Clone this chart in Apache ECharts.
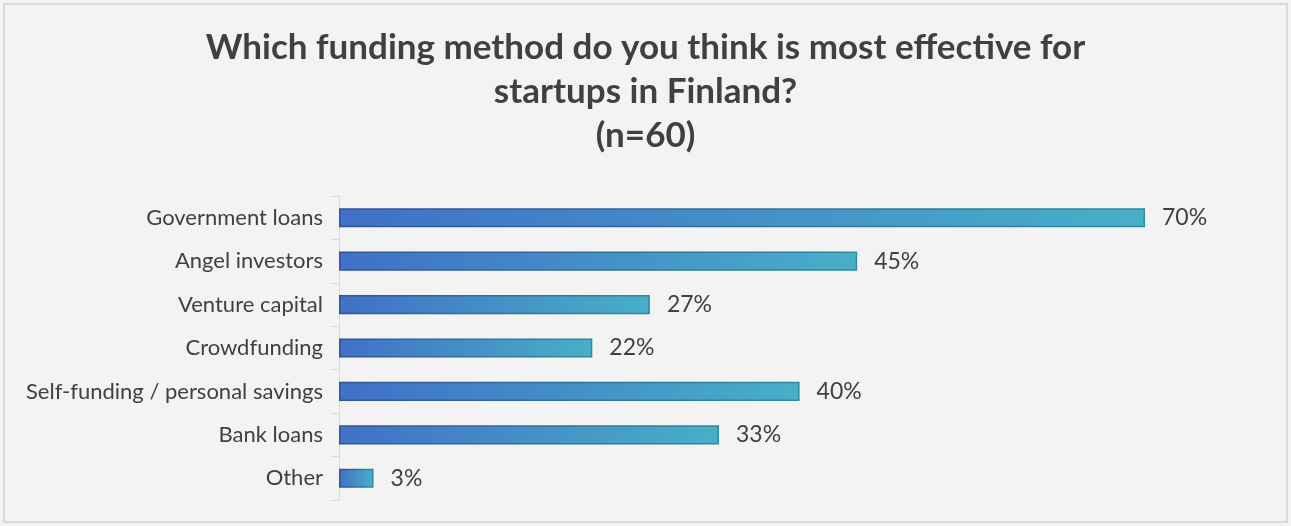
<!DOCTYPE html>
<html>
<head>
<meta charset="utf-8">
<script src="https://cdn.jsdelivr.net/npm/echarts@6/dist/echarts.min.js"></script>
<style>
  html, body { margin: 0; padding: 0; background: #f3f3f3; }
  #wrap { position: absolute; left: 3px; top: 3px; width: 1285px; height: 520px; border: 2px solid #d9d9d9; box-sizing: border-box; }
  #chart { position: absolute; left: 0; top: 0; width: 1291px; height: 526px; }
</style>
</head>
<body>
<div id="chart"></div>
<div id="wrap"></div>
<script>
// Survey answers, top to bottom
const categories = [
  'Government loans',
  'Angel investors',
  'Venture capital',
  'Crowdfunding',
  'Self-funding / personal savings',
  'Bank loans',
  'Other'
];
// Share of respondents (%)
const shares = [70, 45, 27, 22, 40, 33, 3];

const titleText = 'Which funding method do you think is most effective for\nstartups in Finland?\n(n=60)';

const chart = echarts.init(document.getElementById('chart'), null, { renderer: 'canvas' });

const barFill = new echarts.graphic.LinearGradient(0, 0, 1, 0, [
  { offset: 0, color: '#4170c6' },
  { offset: 1, color: '#48afc7' }
]);
const barStroke = new echarts.graphic.LinearGradient(0, 0, 1, 0, [
  { offset: 0, color: '#2f5597' },
  { offset: 1, color: '#2f8aa0' }
]);

chart.setOption({
  backgroundColor: '#f3f3f3',
  animation: false,
  title: {
    text: titleText,
    left: 'center',
    top: 21,
    textStyle: {
      fontFamily: 'Lato',
      fontWeight: 'bold',
      fontSize: 35,
      lineHeight: 44,
      color: '#404040'
    }
  },
  grid: {
    left: 339,
    right: 146,
    top: 196,
    bottom: 26
  },
  xAxis: {
    type: 'value',
    min: 0,
    max: 70,
    show: false
  },
  yAxis: {
    type: 'category',
    inverse: true,
    data: categories,
    axisLine: { show: true, lineStyle: { color: '#d9d9d9', width: 1 } },
    axisTick: { show: true, length: 8, lineStyle: { color: '#d9d9d9' } },
    axisLabel: {
      margin: 16,
      fontFamily: 'Lato',
      fontSize: 22,
      color: '#404040'
    }
  },
  series: [{
    type: 'bar',
    data: shares,
    barCategoryGap: '56%',
    itemStyle: {
      color: barFill,
      borderColor: barStroke,
      borderWidth: 1.5
    },
    label: {
      show: true,
      position: 'right',
      distance: 17,
      formatter: p => p.value + '%',
      fontFamily: 'Lato',
      fontSize: 23,
      color: '#404040'
    }
  }]
});
</script>
</body>
</html>
